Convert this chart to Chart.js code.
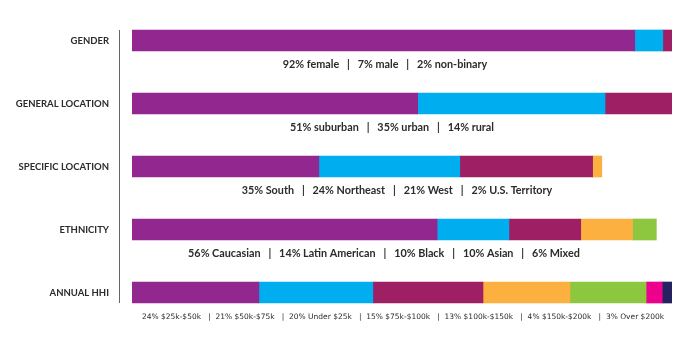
<!DOCTYPE html>
<html>
<head>
<meta charset="utf-8">
<script src="https://cdn.jsdelivr.net/npm/chart.js@4.4.1/dist/chart.umd.min.js"></script>
<style>
  html, body { margin: 0; padding: 0; background: #ffffff; }
  #wrap { width: 700px; height: 355px; position: relative; }
</style>
</head>
<body>
<div id="wrap"><canvas id="c"></canvas></div>
<script>
// ---- data ----
const categories = ["GENDER", "GENERAL LOCATION", "SPECIFIC LOCATION", "ETHNICITY", "ANNUAL HHI"];

const genderValues          = [93.1, 5.2, 1.7];
const generalLocationValues = [52.9, 34.7, 12.4];
const specificLocationValues= [34.6, 26.1, 24.6, 1.7];
const ethnicityValues       = [56.5, 13.3, 13.3, 9.6, 4.4];
const annualHhiValues       = [23.5, 21.1, 20.4, 16.1, 14.1, 3.0, 1.9];

const genderLabels          = ["92% female", "7% male", "2% non-binary"];
const generalLocationLabels = ["51% suburban", "35% urban", "14% rural"];
const specificLocationLabels= ["35% South", "24% Northeast", "21% West", "2% U.S. Territory"];
const ethnicityLabels       = ["56% Caucasian", "14% Latin American", "10% Black", "10% Asian", "6% Mixed"];
const annualHhiLabels       = ["24% $25k-$50k", "21% $50k-$75k", "20% Under $25k", "15% $75k-$100k", "13% $100k-$150k", "4% $150k-$200k", "3% Over $200k"];

// ---- styling ----
const segmentColors = ["#92278f", "#00aeef", "#9e1f63", "#fbb040", "#8dc63f", "#ec008c", "#262262"];
const rowValues = [genderValues, generalLocationValues, specificLocationValues, ethnicityValues, annualHhiValues];
const rowLabels = [genderLabels, generalLocationLabels, specificLocationLabels, ethnicityLabels, annualHhiLabels];
const captionCenters = [385, 392, 397, 384, 403];   // layout: x centre of each caption
const maxSegments = Math.max(...rowValues.map(r => r.length));

const datasets = [];
for (let s = 0; s < maxSegments; s++) {
  datasets.push({
    label: "segment " + (s + 1),
    data: rowValues.map(r => (s < r.length ? r[s] : null)),
    backgroundColor: segmentColors[s],
    borderWidth: 0,
    barThickness: 21
  });
}

const captionPlugin = {
  id: "captions",
  afterDraw(chart) {
    const ctx = chart.ctx;
    const y = chart.scales.y;
    ctx.save();
    // vertical divider line
    ctx.strokeStyle = "#666";
    ctx.lineWidth = 1;
    ctx.beginPath();
    ctx.moveTo(119.5, 30);
    ctx.lineTo(119.5, 303);
    ctx.stroke();
    // captions
    ctx.fillStyle = "#2b2b2b";
    ctx.textAlign = "center";
    ctx.textBaseline = "middle";
    rowLabels.forEach((labels, i) => {
      const cy = y.getPixelForValue(i) + 24;
      if (i === rowLabels.length - 1) {
        ctx.font = "7.5px 'DejaVu Sans'";
        ctx.fillText(labels.join("   |  "), captionCenters[i], cy + 1);
      } else {
        ctx.font = "bold 10.8px Lato";
        ctx.fillText(labels.join("   |   "), captionCenters[i], cy);
      }
    });
    ctx.restore();
  }
};

new Chart(document.getElementById("c"), {
  type: "bar",
  data: { labels: categories, datasets },
  options: {
    indexAxis: "y",
    responsive: true,
    maintainAspectRatio: false,
    animation: false,
    layout: { padding: { left: 0, right: 28, top: 9, bottom: 31 } },
    plugins: { legend: { display: false }, tooltip: { enabled: false } },
    scales: {
      x: {
        stacked: true, min: 0, max: 100, display: false
      },
      y: {
        stacked: true,
        grid: { display: false, drawTicks: false },
        border: { display: false },
        afterFit(scale) {
          scale.width = 132;
          scale.paddingTop = 0;
          scale.paddingBottom = 0;
        },
        ticks: {
          padding: 23,
          color: "#2b2b2b",
          font: { family: "Lato", size: 9.5, weight: "bold" }
        }
      }
    }
  },
  plugins: [captionPlugin]
});
</script>
</body>
</html>
